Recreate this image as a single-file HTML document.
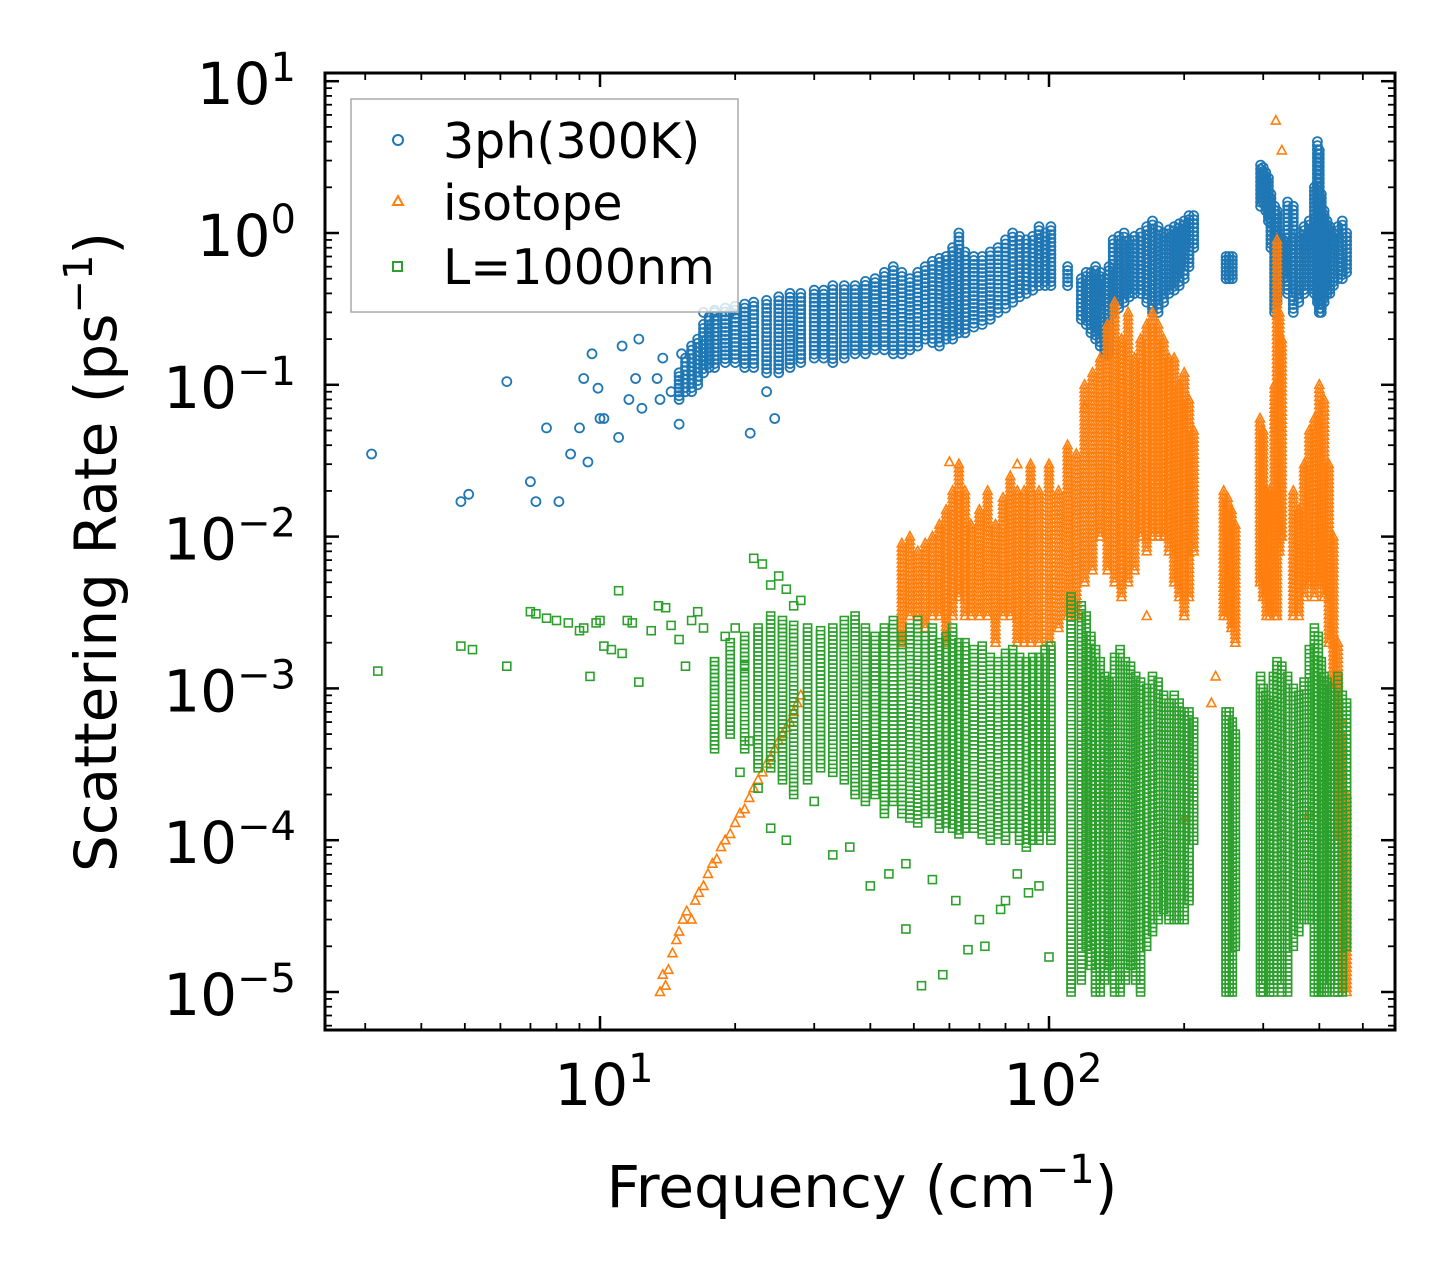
<!DOCTYPE html>
<html><head><meta charset="utf-8">
<style>
html,body{margin:0;padding:0;background:#fff;}
svg{display:block;font-family:"DejaVu Sans","Liberation Sans",sans-serif;}
</style></head>
<body>
<svg id="chart" width="1455" height="1280" viewBox="0 0 1455 1280" xmlns="http://www.w3.org/2000/svg">
<rect width="1455" height="1280" fill="#fff"/>
<g id="marks"></g>
<g id="axes"></g>
<text x="862" y="1207" font-size="58" text-anchor="middle">Frequency (cm<tspan dy="-24" font-size="40">−1</tspan><tspan dy="24">)</tspan></text>
<text transform="translate(116,552) rotate(-90)" font-size="58" text-anchor="middle">Scattering Rate (ps<tspan dy="-24" font-size="40">−1</tspan><tspan dy="24">)</tspan></text>
<g>
<rect x="351" y="99" width="387" height="213" fill="#fff" fill-opacity="0.8" stroke="#aaa" stroke-width="1.5"/>
<circle cx="398" cy="140" r="5" fill="none" stroke="#1f77b4" stroke-width="2"/>
<text x="443" y="158" font-size="49">3ph(300K)</text>
<polygon points="398,196 403,205 393,205" fill="none" stroke="#ff7f0e" stroke-width="2"/>
<text x="443" y="220" font-size="49">isotope</text>
<rect x="393" y="262" width="9" height="9" fill="none" stroke="#2ca02c" stroke-width="2"/>
<text x="443" y="284" font-size="49">L=1000nm</text>
</g>
</svg>
<script>
// ---- data ----
const blueFreq=[3.1,4.9,5.1,6.2,7,7.2,7.6,8.1,8.6,9,9.2,9.4,9.6,9.9,10,10.2,11,11.2,11.6,12,12.2,12.4,13.4,13.6,13.8,14.4,15,15.2,21.6,23.5,24.5,17,18,19.5];
const blueRate=[0.035,0.017,0.019,0.105,0.023,0.017,0.052,0.017,0.035,0.052,0.11,0.031,0.16,0.095,0.06,0.06,0.045,0.18,0.08,0.11,0.2,0.07,0.11,0.08,0.15,0.09,0.055,0.16,0.048,0.09,0.06,0.3,0.31,0.3];
const blueColF=[15,15.5,16,16.5,17,17.5,18,19,20,21,22,23.5,25,26.5,28,30,31.5,33,35,37,39,41,43,45,47,49,51,53,55,57,59,61,63,65,68,71,74,77,80,83,86,89,92,95,98,101,110,118,121,124,127,130,133,136,139,143,147,151,155,160,165,170,175,180,185,190,195,200,205,210,248,252,256,296,300,304,308,312,318,322,326,332,340,350,360,370,380,390,396,400,404,410,416,422,430,440,450,460];
const blueColLo=[0.08,0.09,0.09,0.1,0.12,0.13,0.13,0.14,0.14,0.13,0.13,0.12,0.12,0.13,0.14,0.15,0.15,0.14,0.15,0.16,0.16,0.17,0.17,0.16,0.16,0.17,0.18,0.2,0.19,0.18,0.2,0.2,0.22,0.22,0.24,0.25,0.27,0.3,0.32,0.35,0.38,0.4,0.42,0.45,0.45,0.45,0.45,0.27,0.25,0.22,0.2,0.18,0.16,0.16,0.3,0.32,0.35,0.38,0.4,0.4,0.35,0.3,0.3,0.35,0.4,0.42,0.45,0.5,0.6,0.8,0.5,0.5,0.5,1.5,1.6,1.4,1.2,0.8,0.3,0.35,0.5,0.5,0.4,0.3,0.35,0.4,0.45,0.4,0.35,0.3,0.3,0.35,0.4,0.4,0.45,0.5,0.5,0.55];
const blueColHi=[0.12,0.15,0.18,0.2,0.25,0.28,0.3,0.32,0.33,0.34,0.35,0.36,0.38,0.4,0.4,0.42,0.42,0.45,0.45,0.45,0.48,0.5,0.55,0.6,0.55,0.5,0.55,0.6,0.65,0.68,0.7,0.8,1.0,0.75,0.7,0.7,0.75,0.8,0.9,1.0,0.95,0.9,0.95,1.1,1.0,1.1,0.6,0.5,0.55,0.55,0.6,0.55,0.5,0.6,0.9,0.95,1.0,0.9,0.95,1.0,1.1,1.2,1.1,1.0,1.05,1.1,1.15,1.2,1.3,1.3,0.7,0.7,0.7,2.8,2.7,2.5,2.3,1.8,1.5,1.4,1.0,0.9,1.6,1.5,1.0,1.1,1.2,2.0,4.0,3.5,1.8,1.4,1.2,1.1,1.0,1.1,1.2,1.0];

const orgFreq=[13.6,13.8,14,14.2,14.5,14.8,15,15.3,15.6,16,16.3,16.6,17,17.4,17.8,18.2,18.6,19,19.5,20,20.5,21,21.5,22,22.5,23,23.5,24,24.5,25,25.5,26,26.5,27,27.5,28,60,85,120,165,200,230,235,320,330,440,380,450];
const orgRate=[1.0e-5,1.3e-5,1.1e-5,1.4e-5,1.8e-5,2.2e-5,2.5e-5,3e-5,3.4e-5,3e-5,4e-5,4.5e-5,5e-5,6e-5,7e-5,7.5e-5,9e-5,1e-4,1.1e-4,1.3e-4,1.5e-4,1.6e-4,1.9e-4,2.2e-4,2.5e-4,2.8e-4,3.2e-4,3.5e-4,4e-4,4.5e-4,5e-4,5.5e-4,6e-4,7e-4,8e-4,9e-4,0.031,0.03,0.07,0.003,0.00014,0.0008,0.0012,5.5,3.5,0.0001,0.00015,0.0006];
const orgColF=[47,49,51,53,55,57,59,61,63,65,67,70,73,76,79,82,85,88,91,95,100,105,110,115,120,125,130,135,140,145,150,155,160,165,170,175,180,185,190,195,200,205,210,245,250,255,260,295,300,305,310,318,322,326,330,350,360,370,380,390,400,410,420,430,440,450,460];
const orgColLo=[0.002,0.003,0.003,0.0025,0.003,0.003,0.002,0.003,0.004,0.003,0.003,0.003,0.003,0.002,0.003,0.003,0.002,0.002,0.002,0.002,0.002,0.0025,0.003,0.003,0.005,0.006,0.01,0.006,0.005,0.004,0.005,0.006,0.01,0.008,0.01,0.01,0.01,0.008,0.005,0.004,0.003,0.004,0.008,0.003,0.003,0.0025,0.002,0.005,0.004,0.003,0.003,0.003,0.003,0.008,0.01,0.003,0.003,0.004,0.005,0.004,0.005,0.004,0.002,0.001,0.0001,1e-5,1e-5];
const orgColHi=[0.009,0.01,0.008,0.009,0.01,0.012,0.015,0.02,0.03,0.02,0.012,0.015,0.02,0.012,0.018,0.025,0.02,0.02,0.03,0.02,0.03,0.02,0.04,0.035,0.1,0.12,0.15,0.25,0.35,0.2,0.3,0.15,0.2,0.25,0.3,0.25,0.2,0.15,0.15,0.1,0.12,0.08,0.05,0.02,0.018,0.015,0.012,0.06,0.05,0.02,0.02,0.1,0.9,0.3,0.2,0.02,0.015,0.03,0.05,0.06,0.1,0.08,0.03,0.01,0.002,0.0005,0.0002];

const grnFreq=[3.2,4.9,5.2,6.2,7,7.2,7.6,8,8.5,9,9.2,9.5,9.8,10,10.2,10.6,11,11.2,11.5,11.8,12.2,13,13.5,14,14.4,15,15.5,16,16.5,17,18,19,20,21,22,23,24,25,26,27,28,20.5,21.5,22.5,24,26,30,33,36,40,44,48,55,62,70,80,90,100,48,52,58,66,72,78,85,95];
const grnRate=[0.0013,0.0019,0.0018,0.0014,0.0032,0.0031,0.0029,0.0028,0.0027,0.0024,0.0025,0.0012,0.0027,0.0028,0.0019,0.0018,0.0044,0.0017,0.0028,0.0027,0.0011,0.0024,0.0035,0.0034,0.0026,0.0021,0.0014,0.0028,0.0032,0.0025,0.0015,0.0022,0.0025,0.0014,0.0072,0.0066,0.0048,0.0055,0.0045,0.0035,0.0038,0.00028,0.00045,0.00022,0.00012,0.0001,0.00018,0.00008,0.00009,0.00005,0.00006,0.00007,0.000055,0.00004,0.00003,0.00004,0.000045,0.000017,0.000026,0.000011,0.000013,0.000019,0.00002,0.000035,0.00006,0.00005];
const grnColF=[18,19.5,21,22.5,24,25.5,27,29,31,33,35,37,39,41,43,45,47,49,51,53,55,57,59,61,63,65,68,71,74,77,80,83,86,89,92,95,98,101,112,118,121,124,127,130,133,136,140,144,148,152,156,160,165,170,175,180,185,190,195,200,205,210,248,252,256,260,296,300,304,310,316,322,330,340,350,360,370,380,390,398,404,410,416,424,432,440,450,460];
const grnColLo=[0.0004,0.0005,0.0004,0.0003,0.0003,0.00025,0.0002,0.00025,0.0003,0.00028,0.00025,0.0002,0.00018,0.0002,0.00015,0.00018,0.00015,0.00014,0.00013,0.00015,0.00015,0.00012,0.00013,0.00012,0.00011,0.00012,0.00012,0.00011,0.0001,0.00011,0.0001,0.00012,0.0001,0.00009,0.0001,0.0001,0.00012,0.0001,0.00001,0.000012,0.00002,0.000015,0.00001,0.00001,0.000012,0.000015,0.00001,0.00001,0.000012,0.000015,0.000012,0.00001,0.00002,0.000025,0.00003,0.000035,0.00003,0.00003,0.00003,0.00003,0.00004,0.0001,0.00001,0.00001,0.00001,0.00002,0.00001,0.00001,0.000012,0.00001,0.00001,0.000012,0.00001,0.00001,0.00002,0.000025,0.00003,0.00003,0.00001,0.00001,0.00001,0.00001,0.00001,0.000012,0.00001,0.00001,0.00001,0.00002];
const grnColHi=[0.0015,0.002,0.0022,0.0025,0.003,0.0028,0.0026,0.0025,0.0024,0.0025,0.0028,0.003,0.0025,0.0022,0.0025,0.0028,0.0022,0.0025,0.0028,0.0022,0.0025,0.002,0.0022,0.0025,0.002,0.002,0.0018,0.0019,0.0016,0.0015,0.0017,0.0018,0.0016,0.0015,0.0016,0.0016,0.0018,0.0019,0.004,0.0035,0.003,0.0022,0.0018,0.0015,0.0012,0.0011,0.0016,0.0018,0.0015,0.0014,0.0012,0.0011,0.001,0.0012,0.0011,0.0009,0.0008,0.0009,0.0008,0.0007,0.0007,0.0006,0.0007,0.0007,0.0006,0.0005,0.0012,0.001,0.0009,0.0008,0.0012,0.0015,0.0014,0.0012,0.001,0.0009,0.0011,0.0018,0.0025,0.0022,0.0015,0.0012,0.0011,0.001,0.0009,0.0012,0.0009,0.0008];

const xTickVals=[10,100];
const yTickExps=[-5,-4,-3,-2,-1,0,1];

// ---- scales ----
const L=325,R=1395,T=73,B=1030;
function xs(f){return 600+449*Math.log10(f/10);}
function ys(v){return 233-151.8*Math.log10(v);}
const NS='http://www.w3.org/2000/svg';
const marks=document.getElementById('marks');
const axes=document.getElementById('axes');
function mk(tag,attrs,parent){const e=document.createElementNS(NS,tag);for(const k in attrs)e.setAttribute(k,attrs[k]);parent.appendChild(e);return e;}

function drawMarker(kind,cx,cy,g){
  let e;
  if(kind==='circle'){e=mk('circle',{cx:cx.toFixed(1),cy:cy.toFixed(1),r:4.5,fill:'none',stroke:'#1f77b4','stroke-width':1.8},g);
    }
  else if(kind==='tri'){e=mk('polygon',{points:`${cx.toFixed(1)},${(cy-5).toFixed(1)} ${(cx+4.5).toFixed(1)},${(cy+3.5).toFixed(1)} ${(cx-4.5).toFixed(1)},${(cy+3.5).toFixed(1)}`,fill:'none',stroke:'#ff7f0e','stroke-width':1.6},g);
    }
  else {e=mk('rect',{x:(cx-4).toFixed(1),y:(cy-4).toFixed(1),width:8,height:8,fill:'none',stroke:'#2ca02c','stroke-width':1.6},g);
    }
  
}
function drawSeries(kind,name,fr,rt,cf,lo,hi){
  const g=mk('g',{},marks);
  
  
  for(let i=0;i<cf.length;i++){
    const x=xs(cf[i]);const y1=ys(hi[i]),y2=ys(lo[i]);
    const n=Math.max(1,Math.round((y2-y1)/4));
    for(let j=0;j<=n;j++){drawMarker(kind,x,y1+(y2-y1)*j/n,g);}
  }
  for(let i=0;i<fr.length;i++) drawMarker(kind,xs(fr[i]),ys(rt[i]),g);
}
drawSeries('circle','series-3ph',blueFreq,blueRate,blueColF,blueColLo,blueColHi);
drawSeries('tri','series-isotope',orgFreq,orgRate,orgColF,orgColLo,orgColHi);
drawSeries('square','series-boundary',grnFreq,grnRate,grnColF,grnColLo,grnColHi);

// ---- axes ----
const frame=mk('rect',{x:L,y:T,width:R-L,height:B-T,fill:'none',stroke:'#000','stroke-width':3},axes);


function tick(x1,y1,x2,y2,w){mk('line',{x1,y1,x2,y2,stroke:'#000','stroke-width':w},axes);}
for(let d=0;d<=2;d++){for(let m=1;m<=9;m++){const f=m*Math.pow(10,d);const x=xs(f);if(x<L||x>R)continue;
  const len=(m===1)?14:7,w=(m===1)?2.5:1.8;tick(x,B,x,B-len,w);tick(x,T,x,T+len,w);}}
xTickVals.forEach(v=>{const t=mk('text',{x:xs(v)+4,y:1105,'font-size':58,'text-anchor':'middle'},axes);
  
  
  t.innerHTML='10<tspan dy="-23" font-size="40">'+Math.round(Math.log10(v))+'</tspan>';});
for(let e=-6;e<=1;e++){for(let m=1;m<=9;m++){const v=m*Math.pow(10,e);const y=ys(v);if(y<T||y>B)continue;
  const len=(m===1)?14:7,w=(m===1)?2.5:1.8;tick(L,y,L+len,y,w);tick(R,y,R-len,y,w);}}
yTickExps.forEach(e=>{const y=ys(Math.pow(10,e));
  const t=mk('text',{x:296,y:y+23,'font-size':58,'text-anchor':'end'},axes);
  
  
  const ex=e<0?'−'+(-e):''+e;
  t.innerHTML='10<tspan dy="-23" font-size="40">'+ex+'</tspan>';});
</script>
</body></html>
